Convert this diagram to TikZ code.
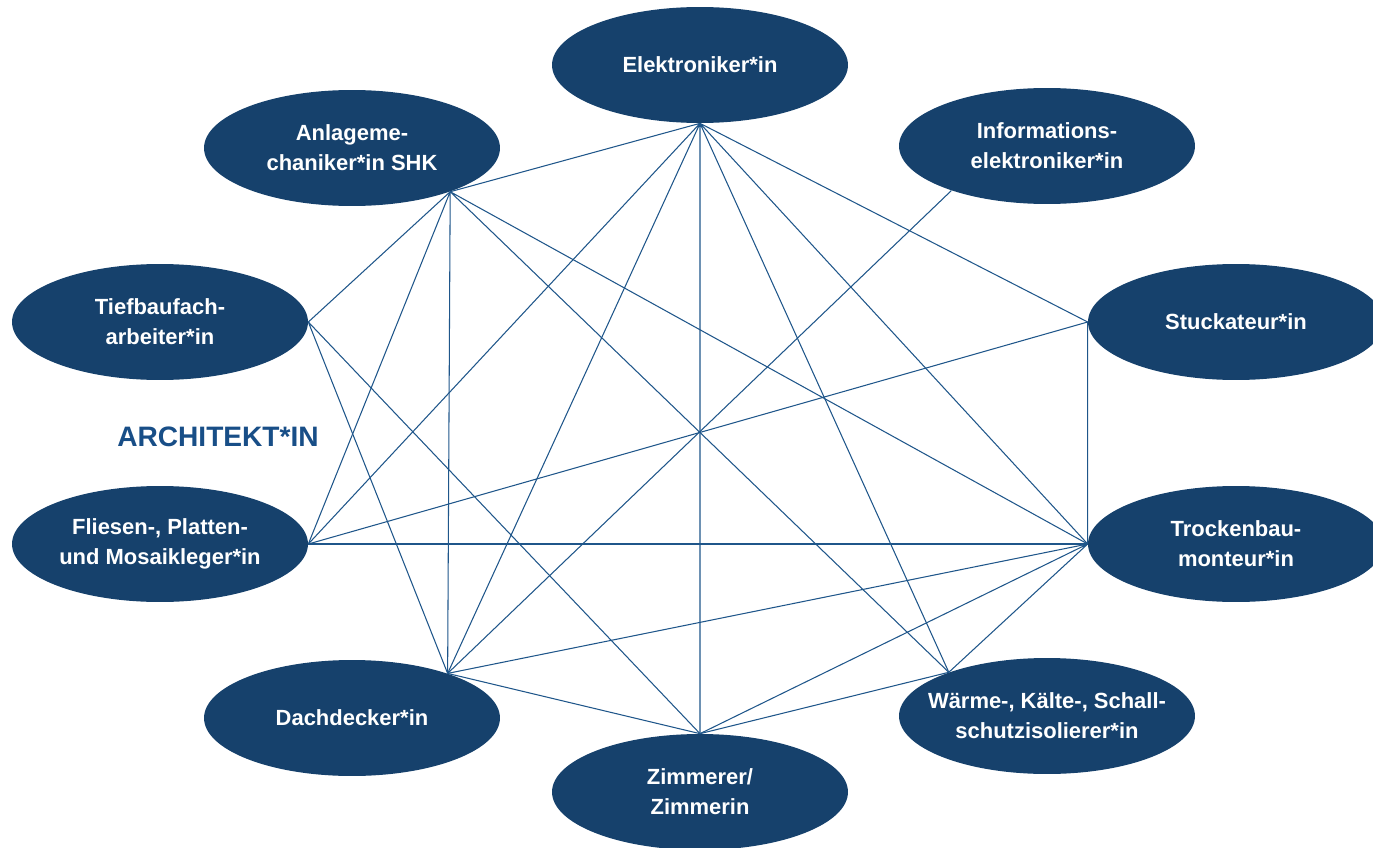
\documentclass[tikz,border=0pt]{standalone}
\usepackage{fontspec}
\setmainfont{Liberation Sans}
\usetikzlibrary{shapes.geometric}

\definecolor{jobblue}{RGB}{22,65,108}
\definecolor{linkblue}{RGB}{31,86,138}
\definecolor{titleblue}{RGB}{24,78,135}

\begin{document}
\begin{tikzpicture}
[
	x=0.02cm, y=-0.02cm,
	job/.style={ellipse,fill=jobblue,text=white,inner sep=0pt,minimum width=5.92cm,minimum height=2.32cm,align=center,font=\fontsize{12.5}{17}\selectfont\bfseries},
	link/.style={linkblue,line width=0.6pt},
]

	\useasboundingbox (0,0) rectangle (1373,848);
	\clip (0,0) rectangle (1373,848);

	% jobs
	\node[job] at (700,65) (elek) {Elektroniker*in};
	\node[job] at (352,148) (anla) {Anlageme-\\chaniker*in SHK};
	\node[job] at (1047,146) (info) {Informations-\\elektroniker*in};
	\node[job] at (160,322) (tief) {Tiefbaufach-\\arbeiter*in};
	\node[job] at (1236,322) (stuc) {Stuckateur*in};
	\node[job] at (160,544) (flie) {Fliesen-, Platten-\\und Mosaikleger*in};
	\node[job] at (1236,544) (troc) {Trockenbau-\\monteur*in};
	\node[job] at (352,718) (dach) {Dachdecker*in};
	\node[job,inner xsep=-1cm] at (1047,716) (waer) {Wärme-, Kälte-, Schall-\\schutzisolierer*in};
	\node[job] at (700,792) (zimm) {Zimmerer/\\Zimmerin};

	\node[titleblue,font=\fontsize{16}{20}\selectfont\bfseries] at (218,437) (arch) {ARCHITEKT*IN};

	% contact points
	\coordinate (elekP) at (elek.south);
	\coordinate (anlaP) at (anla.-24);
	\coordinate (infoP) at (info.-155);
	\coordinate (tiefP) at (tief.east);
	\coordinate (stucP) at (stuc.west);
	\coordinate (flieP) at (flie.east);
	\coordinate (trocP) at (troc.west);
	\coordinate (dachP) at (dach.25);
	\coordinate (waerP) at (waer.156);
	\coordinate (zimmP) at (zimm.north);

	% links
	\draw[link] (elekP) -- (anlaP) (elekP) -- (flieP) (elekP) -- (dachP) (elekP) -- (zimmP)
		(elekP) -- (waerP) (elekP) -- (trocP) (elekP) -- (stucP);
	\draw[link] (anlaP) -- (tiefP) (anlaP) -- (flieP) (anlaP) -- (dachP) (anlaP) -- (trocP) (anlaP) -- (waerP);
	\draw[link] (infoP) -- (dachP);
	\draw[link] (tiefP) -- (dachP) (tiefP) -- (zimmP);
	\draw[link] (stucP) -- (flieP) (stucP) -- (trocP);
	\draw[link] (flieP) -- (trocP);
	\draw[link] (trocP) -- (dachP) (trocP) -- (zimmP) (trocP) -- (waerP);
	\draw[link] (dachP) -- (zimmP);
	\draw[link] (zimmP) -- (waerP);

\end{tikzpicture}
\end{document}
